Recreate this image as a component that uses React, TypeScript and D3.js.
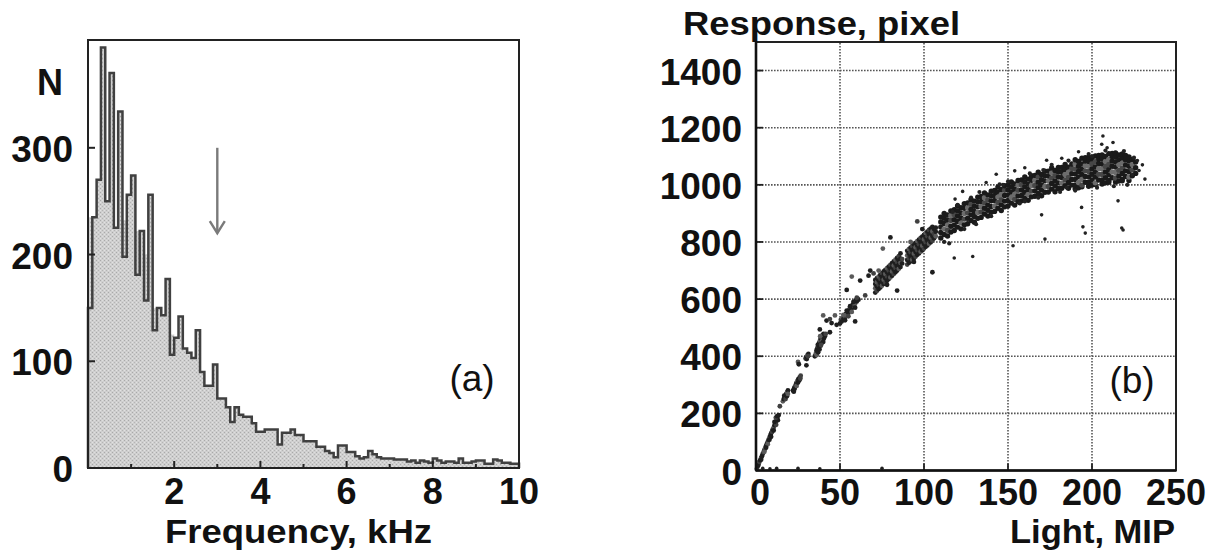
import React from "react";
import * as d3 from "d3";

// ---------------- Panel (a): frequency histogram ----------------
const binWidthKHz = 0.1;
const outlineCounts: number[] = [
  150, 235, 270, 394, 250, 370, 225, 334, 198, 256, 274, 181, 222, 157, 256, 129, 150, 143, 177, 106, 122, 142, 112, 108, 103,
  129, 90, 77, 77, 97, 65, 65, 57, 43, 57, 50, 48, 48, 42, 34, 34, 36, 36, 36, 22, 33, 33, 36, 31, 31, 25, 25, 25, 20, 20, 16, 14, 10, 21, 21, 15, 15,
  11, 9, 10, 16, 13, 10, 9, 9, 9, 8, 8, 8, 6, 7, 5, 7, 6, 5, 9, 7, 5, 6, 6, 5, 9, 5, 5, 6, 7, 7, 4, 4, 8, 7, 5, 5, 4, 4,
];
const fillCounts: number[] = [
  235, 235, 268, 265, 250, 245, 225, 236, 232, 256, 240, 222, 215, 200, 200, 150, 145, 140, 135, 125, 122, 118, 112, 108, 103,
];
const histXTicks = [1, 2, 3, 4, 5, 6, 7, 8, 9];
const histXLabels = [2, 4, 6, 8, 10];
const histYTicks = [100, 200, 300];
const histYLabels = [0, 100, 200, 300];
const arrowMarker = { freq: 3.0, from: 300, to: 220 };

// ---------------- Panel (b): response vs light ----------------
const lightTicks = [0, 50, 100, 150, 200, 250];
const responseTicks = [0, 200, 400, 600, 800, 1000, 1200, 1400];
const lightGrid = [50, 100, 150, 200];
const responseGrid = [200, 400, 600, 800, 1000, 1200, 1400];

const originLine: [number, number][] = [
  [0.5, 6], [1, 14], [1.5, 20], [2, 30], [2.5, 36], [3, 44], [3.5, 50], [4, 58], [4.5, 64], [5, 72], [5.5, 80], [6, 86],
  [6.5, 94], [7, 100], [7.5, 108], [8, 116], [8.5, 122], [9, 130], [9.5, 136], [10, 144], [10.5, 150], [11, 158], [11.5, 166],
  [12, 172], [12.5, 180], [13, 188], [13.5, 194], [10.5, 140], [12, 160], [9, 118], [7, 92], [11, 170], [13, 176], [14.2, 225],
  [3, 38], [5, 66], [6, 80], [8, 108], [11.8, 185], [12.6, 190],
];
const lowClusters: [number, number][] = [
  [16, 242], [16.5, 250], [17, 256], [17.5, 262], [18, 268], [18.5, 274], [19, 280], [16.8, 262], [17.6, 250], [18.4, 260], [19, 268],
  [22, 280], [22.8, 290], [23.5, 298], [24, 306], [24.6, 314], [25.2, 320], [26, 326], [26.6, 332], [23, 286], [24.2, 296], [25, 308],
  [25.8, 316], [26.4, 322], [22.5, 276], [25, 380], [25.5, 372], [30, 368],
  [29.5, 392], [30, 398], [30.6, 404], [31.2, 408], [30.2, 390], [31, 400],
  [35, 400], [35.6, 410], [36, 420], [36.5, 428], [37, 436], [37.5, 446], [38, 454], [38.5, 462], [39, 468], [39.6, 474], [40.2, 478],
  [36.2, 404], [37, 414], [37.8, 424], [38.4, 436], [39, 446], [39.6, 456], [40.4, 462], [41, 470], [41.5, 478], [36.8, 440], [38.2, 470],
  [40, 450], [37.4, 426], [38.8, 440],
  [38, 494], [40, 543], [42, 525], [44, 484], [44, 530], [45, 516], [47, 543], [48, 510],
  [50, 515], [50.5, 528], [51, 522], [51.5, 534], [52, 530], [52.5, 542], [53, 536], [53.5, 548], [54, 545], [54.5, 556], [55, 552],
  [55.5, 564], [56, 560], [56.5, 572], [57, 568], [57.5, 580], [58, 576], [58.5, 588], [59, 584], [59.5, 596], [60, 592], [60.5, 602],
  [61, 598], [52, 545], [53, 526], [54, 560], [55, 540], [56, 575], [57, 555], [58, 590], [59, 570], [60, 605], [54, 632], [57, 679],
  [59, 522], [62, 665], [65, 613],
];
const midClusters: [number, number][] = [
  [71, 623], [71, 638], [71, 653], [71, 667], [72, 629], [72, 644], [72, 659], [72, 673], [73, 635], [73, 650], [73, 665], [73, 679],
  [74, 641], [74, 656], [74, 671], [74, 685], [75, 647], [75, 662], [75, 677], [75, 691], [76, 653], [76, 668], [76, 683], [76, 697],
  [77, 658], [77, 673], [77, 688], [77, 702], [78, 664], [78, 679], [78, 694], [78, 708], [79, 670], [79, 685], [79, 700], [79, 714],
  [80, 676], [80, 691], [80, 706], [80, 720], [81, 682], [81, 697], [81, 712], [81, 726], [82, 688], [82, 703], [82, 718], [82, 732],
  [83, 694], [83, 709], [83, 724], [83, 738], [84, 700], [84, 715], [84, 730], [84, 744], [85, 706], [85, 721], [85, 736], [85, 750],
  [86, 712], [86, 727], [86, 742], [87, 725], [87, 740],
  [67, 682], [75.5, 777], [80, 816], [84, 630], [70, 690], [68, 700], [73, 700], [78, 650], [86, 760],
  [90, 721], [90, 737], [90, 753], [90, 769], [91, 727], [91, 743], [91, 759], [91, 775], [92, 732], [92, 748], [92, 764], [92, 780],
  [93, 738], [93, 754], [93, 770], [93, 786], [94, 743], [94, 759], [94, 775], [94, 791], [95, 749], [95, 765], [95, 781], [95, 797],
  [96, 755], [96, 771], [96, 787], [96, 803], [97, 760], [97, 776], [97, 792], [97, 808], [98, 766], [98, 782], [98, 798], [98, 814],
  [99, 771], [99, 787], [99, 803], [99, 819], [100, 777], [100, 793], [100, 809], [100, 825], [101, 783], [101, 799], [101, 815],
  [101, 831], [102, 788], [102, 804], [102, 820], [102, 836], [103, 794], [103, 810], [103, 826], [103, 842], [104, 799], [104, 815],
  [104, 831], [104, 847], [105, 805], [105, 821], [105, 837], [105, 853], [106, 813], [106, 829], [106, 845], [107, 820], [107, 836],
  [107, 850], [96, 872], [105, 694], [92, 800], [99, 845], [94, 730],
];
const bandLight: number[] = [
  110, 112, 114, 116, 118, 120, 122, 124, 126, 128, 130, 132, 134, 136, 138, 140, 142, 144, 146, 148, 150, 152, 154, 156, 158, 160,
  162, 164, 166, 168, 170, 172, 174, 176, 178, 180, 182, 184, 186, 188, 190, 192, 194, 196, 198, 200, 202, 204, 206, 208, 210, 212,
  214, 216, 218, 220, 222, 224, 226,
];
const bandResponse: number[][] = [
  [814, 833, 852, 870, 887], [826, 846, 865, 883, 900], [821, 841, 859, 877, 895], [835, 855, 875, 893, 909],
  [840, 859, 878, 896, 913], [852, 872, 891, 909, 926], [846, 866, 884, 902, 920], [860, 880, 900, 918, 934],
  [864, 883, 902, 920, 937], [875, 895, 914, 932, 949], [869, 889, 907, 925, 943], [883, 903, 923, 941, 957],
  [886, 905, 924, 942, 959], [898, 918, 937, 955, 972], [891, 911, 929, 947, 965], [904, 924, 944, 962, 978],
  [907, 926, 945, 963, 980], [918, 938, 957, 975, 992], [910, 930, 948, 966, 984], [923, 943, 963, 981, 997],
  [926, 945, 964, 982, 999], [936, 956, 975, 993, 1010], [929, 949, 967, 985, 1003], [941, 961, 981, 999, 1015],
  [944, 963, 982, 1000, 1017], [954, 974, 993, 1011, 1028], [946, 966, 984, 1002, 1020], [958, 978, 998, 1016, 1032],
  [960, 979, 998, 1016, 1033], [970, 990, 1009, 1027, 1044], [962, 982, 1000, 1018, 1036], [974, 994, 1014, 1032, 1048],
  [975, 994, 1013, 1031, 1048], [985, 1005, 1024, 1042, 1059], [976, 996, 1014, 1032, 1050], [987, 1007, 1027, 1045, 1061],
  [988, 1007, 1026, 1044, 1061], [997, 1017, 1036, 1054, 1071], [988, 1008, 1026, 1044, 1062], [999, 1019, 1039, 1057, 1073],
  [986, 1000, 1019, 1038, 1056, 1073, 1088], [990, 1008, 1028, 1047, 1065, 1082], [993, 999, 1019, 1037, 1055, 1073, 1093],
  [1009, 1029, 1049, 1067, 1083, 1095], [995, 1009, 1028, 1047, 1065, 1082, 1097], [999, 1017, 1037, 1056, 1074, 1091],
  [1001, 1007, 1027, 1045, 1063, 1081, 1101], [1017, 1037, 1057, 1075, 1091, 1103], [1003, 1017, 1036, 1055, 1073, 1090, 1105],
  [1007, 1025, 1045, 1064, 1082, 1099], [1009, 1015, 1035, 1053, 1071, 1089, 1109], [1025, 1045, 1065, 1083, 1099, 1110],
  [1010, 1024, 1043, 1062, 1080, 1097, 1112], [1013, 1031, 1051, 1070, 1088, 1105], [1014, 1020, 1040, 1058, 1076, 1094, 1108],
  [1029, 1049, 1069, 1087, 1103], [1015, 1027, 1046, 1065, 1083, 1098], [1032, 1052, 1071, 1089], [1040, 1060, 1080],
];
const bandFringe: [number, number][] = [
  [112, 800], [120, 930], [117, 905], [128, 955], [133, 975], [140, 890], [147, 1000], [150, 1012], [157, 935], [160, 942],
  [163, 1040], [168, 955], [176, 1070], [181, 975], [185, 990], [186, 1085], [190, 980], [198, 1108], [200, 1100], [203, 990],
  [208, 1120], [213, 995], [219, 1118], [221, 1000], [225, 1095], [115, 795], [124, 845], [131, 862], [145, 1002], [171, 1052],
];
const outliers: [number, number][] = [
  [129, 749], [118, 744], [123, 977], [137, 1008], [172, 810], [153, 787], [194.6, 853], [196, 831], [217.7, 849], [218.5, 842],
  [206.5, 1171], [205.8, 1142], [212.5, 1148], [230, 1070], [231.5, 1020], [170, 895], [193.8, 921], [215.5, 944], [118.5, 950],
  [143, 1037], [154, 1049], [160, 1060], [173, 1086], [182, 1093], [192, 1116], [209, 1130], [227, 1085], [224, 1035], [228, 1050],
  [4, 8], [8.3, 6], [12.3, 8], [25, 8], [38, 6], [75, 8],
];

const FONT = "'Liberation Sans', Arial, Helvetica, sans-serif";

export default function App() {
  // scales panel (a)
  const xA = d3.scaleLinear().domain([0, 10]).range([88, 519]);
  const yA = d3.scaleLinear().domain([0, 401]).range([468, 40]);
  // scales panel (b)
  const xB = d3.scaleLinear().domain([0, 250]).range([756, 1176]);
  const yB = d3.scaleLinear().domain([0, 1500]).range([470.5, 42]);

  const stepPoints = (vals: number[]): [number, number][] => {
    const pts: [number, number][] = [[0, 0]];
    vals.forEach((v, i) => {
      pts.push([i * binWidthKHz, v]);
      pts.push([(i + 1) * binWidthKHz, v]);
    });
    pts.push([vals.length * binWidthKHz, 0]);
    return pts;
  };
  const lineA = d3
    .line<[number, number]>()
    .x((d) => xA(d[0]))
    .y((d) => yA(d[1]));
  const outlinePath = lineA(stepPoints(outlineCounts)) || "";
  const fillPath = lineA(stepPoints(fillCounts)) || "";

  const bandPoints: { p: [number, number]; tone: string }[] = [];
  bandLight.forEach((L, i) => {
    const rs = bandResponse[i];
    rs.forEach((r, j) => {
      const inner = j > 0 && j < rs.length - 1;
      const k = (i * 7 + j * 3) % 5;
      const tone = inner && k === 0 ? "#6c6c6c" : inner && k === 2 ? "#474747" : "#1a1a1a";
      bandPoints.push({ p: [L, r], tone });
    });
  });
  const clusterPoints = [...originLine, ...lowClusters, ...midClusters];

  const ax = xA(arrowMarker.freq);
  const aTip = yA(arrowMarker.to);
  const aTop = yA(arrowMarker.from);

  return (
    <svg
      width={1216}
      height={551}
      viewBox="0 0 1216 551"
      style={{ position: "absolute", left: 0, top: 0, background: "#fff" }}
    >
      <defs>
        <pattern id="stipple" width="4" height="4" patternUnits="userSpaceOnUse">
          <rect width="4" height="4" fill="#cfcfcf" />
          <rect x="0" y="0" width="1" height="1" fill="#a9a9a9" />
          <rect x="2" y="2" width="1" height="1" fill="#b4b4b4" />
          <rect x="2" y="0" width="1" height="1" fill="#dedede" />
          <rect x="0" y="2" width="1" height="1" fill="#e2e2e2" />
        </pattern>
      </defs>

      {/* ---------- Panel (a) ---------- */}
      <path d={fillPath + "Z"} fill="url(#stipple)" stroke="none" />
      <path d={outlinePath + "Z"} fill="url(#stipple)" stroke="none" />
      <path d={outlinePath} fill="none" stroke="#404040" strokeWidth={2.5} strokeLinejoin="miter" />
      <rect x={xA(0)} y={yA(401)} width={xA(10) - xA(0)} height={yA(0) - yA(401)} fill="none" stroke="#222" strokeWidth={2} />
      {histXTicks.map((t) => (
        <line key={"xt" + t} x1={xA(t)} x2={xA(t)} y1={yA(0)} y2={yA(0) - (t % 2 === 0 ? 7 : 4)} stroke="#222" strokeWidth={2} />
      ))}
      {histYTicks.map((t) => (
        <line key={"yt" + t} x1={xA(0)} x2={xA(0) + 7} y1={yA(t)} y2={yA(t)} stroke="#222" strokeWidth={2} />
      ))}
      {histYLabels.map((t) => (
        <text key={"yl" + t} x={73} y={yA(t) + 14} textAnchor="end" fontFamily={FONT} fontWeight="bold" fontSize={37} fill="#111">
          {t}
        </text>
      ))}
      {histXLabels.map((t) => (
        <text key={"xl" + t} x={xA(t)} y={504} textAnchor="middle" fontFamily={FONT} fontWeight="bold" fontSize={36} fill="#111">
          {t}
        </text>
      ))}
      <text x={50} y={95} textAnchor="middle" fontFamily={FONT} fontWeight="bold" fontSize={36} fill="#111">
        N
      </text>
      <text x={165} y={543} textLength={267} lengthAdjust="spacingAndGlyphs" fontFamily={FONT} fontWeight="bold" fontSize={34} fill="#111">
        Frequency, kHz
      </text>
      <text x={472} y={391} textAnchor="middle" fontFamily={FONT} fontSize={37} fill="#111">
        (a)
      </text>
      <line x1={ax} x2={ax} y1={aTop} y2={aTip} stroke="#7a7a7a" strokeWidth={2.4} />
      <polyline points={`${ax - 7.5},${aTip - 12} ${ax},${aTip} ${ax + 7.5},${aTip - 12}`} fill="none" stroke="#7a7a7a" strokeWidth={2.4} />

      {/* ---------- Panel (b) ---------- */}
      {responseGrid.map((t) => (
        <line key={"gy" + t} x1={xB(0)} x2={xB(250)} y1={yB(t)} y2={yB(t)} stroke="#555" strokeWidth={1.6} strokeDasharray="1.6 1.4" />
      ))}
      {lightGrid.map((t) => (
        <line key={"gx" + t} x1={xB(t)} x2={xB(t)} y1={yB(0)} y2={yB(1500)} stroke="#555" strokeWidth={1.6} strokeDasharray="1.6 1.4" />
      ))}
      {responseGrid.map((t) => (
        <line key={"ty" + t} x1={xB(0)} x2={xB(0) + 7} y1={yB(t)} y2={yB(t)} stroke="#222" strokeWidth={1.8} />
      ))}
      {lightGrid.map((t) => (
        <line key={"tx" + t} x1={xB(t)} x2={xB(t)} y1={yB(0)} y2={yB(0) - 7} stroke="#222" strokeWidth={1.8} />
      ))}

      {bandPoints.map((d, i) => (
        <circle key={"b" + i} cx={xB(d.p[0])} cy={yB(d.p[1])} r={2.7} fill={d.tone} />
      ))}
      {bandFringe.map((d, i) => (
        <circle key={"f" + i} cx={xB(d[0])} cy={yB(d[1])} r={2.1} fill="#222" />
      ))}
      {clusterPoints.map((d, i) => (
        <circle key={"c" + i} cx={xB(d[0])} cy={yB(d[1])} r={2.4} fill={i % 5 === 0 ? "#5a5a5a" : i % 5 === 3 ? "#404040" : "#1e1e1e"} />
      ))}
      {outliers.map((d, i) => (
        <circle key={"o" + i} cx={xB(d[0])} cy={yB(d[1])} r={1.8} fill="#222" />
      ))}

      <rect x={xB(0)} y={yB(1500)} width={xB(250) - xB(0)} height={yB(0) - yB(1500)} fill="none" stroke="#222" strokeWidth={2} />
      <line x1={xB(0)} x2={xB(0)} y1={yB(0)} y2={yB(1500)} stroke="#111" strokeWidth={2.6} />
      <line x1={xB(0)} x2={xB(250)} y1={yB(0)} y2={yB(0)} stroke="#111" strokeWidth={2.6} />

      {responseTicks.map((t) => (
        <text key={"rl" + t} x={742} y={yB(t) + 14} textAnchor="end" fontFamily={FONT} fontWeight="bold" fontSize={37} fill="#111">
          {t}
        </text>
      ))}
      {lightTicks.map((t) => (
        <text key={"ll" + t} x={xB(t) + (t === 0 ? 4 : 0)} y={505} textAnchor="middle" fontFamily={FONT} fontWeight="bold" fontSize={36} fill="#111">
          {t}
        </text>
      ))}
      <text x={683} y={35} textLength={277} lengthAdjust="spacingAndGlyphs" fontFamily={FONT} fontWeight="bold" fontSize={33} fill="#111">
        Response, pixel
      </text>
      <text x={1010} y={543} textLength={165} lengthAdjust="spacingAndGlyphs" fontFamily={FONT} fontWeight="bold" fontSize={34} fill="#111">
        Light, MIP
      </text>
      <text x={1132} y={393} textAnchor="middle" fontFamily={FONT} fontSize={37} fill="#111">
        (b)
      </text>
    </svg>
  );
}
